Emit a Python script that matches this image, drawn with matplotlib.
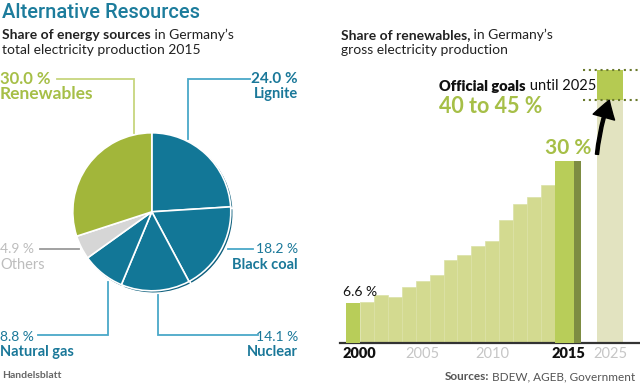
import matplotlib
matplotlib.use("Agg")
import matplotlib.pyplot as plt
from matplotlib.patches import FancyArrowPatch

plt.rcParams['font.family'] = ['Lato', 'DejaVu Sans']

# ---------------- data ----------------
pie_labels = ["Lignite", "Black coal", "Nuclear", "Natural gas", "Others", "Renewables"]
pie_values = [24.0, 18.2, 14.1, 8.8, 4.9, 30.0]

years = list(range(2000, 2016))
shares = [6.6, 6.7, 7.9, 7.5, 9.2, 10.2, 11.2, 13.7, 14.5, 15.9, 16.7, 20.2, 22.8, 24.0, 26.0, 30.0]
goal_year = 2025
goal_low, goal_high = 40, 45
tick_years = [2000, 2005, 2010, 2015, 2025]

# ---------------- colours ----------------
BLUE = "#127797"
BLUE_DARK = "#0d5f7d"
BLUE_TXT = "#1a7899"
BLUE_LINE = "#4aa8c8"
GREEN_PIE = "#a2b63a"
GREEN_TXT = "#a6bf47"
GREEN_LINE = "#c7d57e"
GRAY_PIE = "#d6d6d6"
GRAY_TXT = "#bdbdbd"
GRAY_LINE = "#9a9a9a"
BAR_PALE = "#d3da90"
BAR_BRIGHT = "#b8cd59"
BAR_DARK = "#7d8c42"
GOAL_BEIGE = "#e2e3c0"
GOAL_GREEN = "#b5ca52"
DOT = "#6b7a2e"

W, H = 640, 384
fig = plt.figure(figsize=(W / 100, H / 100), dpi=100)

def fax(x0, y0, w, h):
    """axes in top-down pixel coordinates"""
    return fig.add_axes([x0 / W, (H - y0 - h) / H, w / W, h / H])

# ---------------- pie ----------------
cx, cy, R = 153.3, 213.3, 80
pax = fax(cx - 90, cy - 90, 180, 180)
dark_cols = [BLUE_DARK] * 4 + [GRAY_PIE, GREEN_PIE]
main_cols = [BLUE] * 4 + [GRAY_PIE, GREEN_PIE]
pax.pie(pie_values, colors=dark_cols, startangle=90, counterclock=False,
        radius=R, center=(0, 0), frame=True,
        wedgeprops=dict(edgecolor="white", linewidth=1.2))
pax.pie(pie_values, colors=main_cols, startangle=90, counterclock=False,
        radius=R - 1, center=(-1.5, 1.5), frame=True,
        wedgeprops=dict(edgecolor="white", linewidth=1.2))
pax.set_xlim(-90, 90)
pax.set_ylim(-90, 90)
pax.set_aspect("equal")
pax.axis("off")

# ---------------- bars ----------------
base_px, top_px = 342.7, 60
ppu = 6.067  # pixels per percent
unit = 13.93  # pixels per year-bar
bx0, bx1 = 340, 640
bax = fax(bx0, top_px, bx1 - bx0, base_px - top_px)
bax.set_ylim(0, (base_px - top_px) / ppu)
bax.set_xlim((bx0 - 346) / unit, (bx1 - 346) / unit)

n_hist = len(years) - 1
pos = [y - years[0] for y in years]
pale_x = [p + 0.5 for p in pos[1:n_hist]]
bax.bar(pale_x, shares[1:n_hist], width=1.0, color=BAR_PALE,
        edgecolor="#dbe1a6", linewidth=0.5, zorder=2)
bax.bar(pos[0] + 0.5, shares[0], width=1.0, color=BAR_BRIGHT, linewidth=0, zorder=3)
# 2015 bar (wider, with a shadow strip)
w15 = 1.87
bax.bar(pos[-1], shares[-1], width=w15 - 0.5, align="edge", color=BAR_BRIGHT, linewidth=0, zorder=3)
bax.bar(pos[-1] + w15 - 0.5, shares[-1], width=0.5, align="edge", color=BAR_DARK, linewidth=0, zorder=3)
# 2025 goal bar
gx = pos[-1] + w15 + 1.15
bax.bar(gx, goal_low, width=w15, align="edge", color=GOAL_BEIGE, linewidth=0, zorder=2)
bax.bar(gx, goal_high - goal_low, bottom=goal_low, width=w15, align="edge",
        color=GOAL_GREEN, linewidth=0, zorder=2)
for yv in (goal_low, goal_high):
    bax.plot([gx - 1.0, bax.get_xlim()[1]], [yv, yv], color=DOT, lw=1.5,
             ls=(0, (1, 1.8)), zorder=4, solid_capstyle="butt")

for s in ("top", "right", "left"):
    bax.spines[s].set_visible(False)
bax.spines["bottom"].set_color("#333333")
bax.spines["bottom"].set_linewidth(1.6)
bax.set_yticks([])
bax.set_xticks([])
bax.patch.set_alpha(0)

# tick labels
tick_pos = {2000: -0.25, 2005: 5.5, 2010: 10.5, 2015: pos[-1] + w15 / 2, 2025: gx + w15 / 2}
for ty in tick_years:
    bold = ty in (2000, 2015)
    bax.text(tick_pos[ty], -1.8, str(ty), ha="left" if ty == 2000 else "center", va="center",
             fontsize=10.5, fontweight="heavy" if bold else "normal",
             color="#111111" if bold else "#c6c6c6", clip_on=False)

bax.text(-0.25, shares[0] + 1.8, f"{shares[0]:.1f} %", ha="left", va="center",
         fontsize=10, color="#111111")
bax.text(pos[-1] + w15 / 2, shares[-1] + 2.1, f"{shares[-1]:.0f} %", ha="center", va="center",
         fontsize=15, fontweight="bold", color=GREEN_TXT)

arr = FancyArrowPatch((gx - 0.02, shares[-1] + 0.6), (gx + 0.95, goal_low + 0.4),
                      connectionstyle="arc3,rad=-0.07",
                      arrowstyle="simple,head_width=10,head_length=8,tail_width=1.4",
                      color="black", zorder=6, mutation_scale=1.6)
bax.add_patch(arr)

# ---------------- overlay texts ----------------
ov = fig.add_axes([0, 0, 1, 1], zorder=10)
ov.set_xlim(0, W)
ov.set_ylim(H, 0)
ov.axis("off")
ov.patch.set_alpha(0)

ov.text(2, 12.5, "Alternative Resources", fontsize=14.5, color="#1c7c9c", va="center", ha="left",
        family=["Roboto", "Lato", "DejaVu Sans"], fontweight="medium")

def mixed(x, y, parts, fs, color="#222222"):
    t = None
    for txt, wt in parts:
        if t is None:
            t = ov.text(x, y, txt, fontsize=fs, fontweight=wt, color=color, va="center", ha="left")
        else:
            t = ov.annotate(txt, xycoords=t, xy=(1, 0), va="bottom", ha="left",
                            fontsize=fs, fontweight=wt, color=color)
    return t

mixed(2, 35, [("Share of energy sources", "bold"), (" in Germany\u2019s", "normal")], 10)
ov.text(2, 50, "total electricity production 2015", fontsize=10, color="#222222", va="center")
mixed(341, 35, [("Share of renewables,", "bold"), (" in Germany\u2019s", "normal")], 10)
ov.text(341, 50, "gross electricity production", fontsize=10, color="#222222", va="center")

mixed(439, 86.5, [("Official goals", "heavy"), (" until 2025", "normal")], 10.5, color="#111111")
ov.text(439, 106.5, f"{goal_low} to {goal_high} %", fontsize=15.5, fontweight="bold",
        color=GREEN_TXT, va="center")

# pie labels: (x, y, ha, colour, num weight, num size, name weight, name size)
lab = {
    "Renewables": (0, 79, "left", GREEN_TXT, "bold", 12, "bold", 12.5),
    "Lignite": (298, 79, "right", BLUE_TXT, "bold", 11, "bold", 10.5),
    "Black coal": (298, 249.3, "right", BLUE_TXT, "normal", 10, "bold", 10.5),
    "Nuclear": (298, 336.7, "right", BLUE_TXT, "normal", 10, "bold", 10.5),
    "Natural gas": (0, 336.7, "left", BLUE_TXT, "normal", 10, "bold", 10.5),
    "Others": (0, 249.3, "left", GRAY_TXT, "normal", 10, "normal", 10.5),
}
for name, val in zip(pie_labels, pie_values):
    x, y, ha, col, wnum, snum, wname, sname = lab[name]
    ov.text(x, y, f"{val:.1f} %", ha=ha, va="center", fontsize=snum, fontweight=wnum, color=col)
    ov.text(x, y + 15.3, name, ha=ha, va="center", fontsize=sname, fontweight=wname, color=col)

# leader lines
lines = [
    ([57, 134, 134], [79, 79, 133], GREEN_LINE),
    ([188.3, 188.3, 250], [139, 79, 79], BLUE_LINE),
    ([228, 253], [249.3, 249.3], BLUE_LINE),
    ([40, 79], [249.3, 249.3], GRAY_LINE),
    ([108.3, 108.3, 38.3], [281.7, 335.3, 335.3], BLUE_LINE),
    ([158.3, 158.3, 257.7], [295, 335.3, 335.3], BLUE_LINE),
]
for xs, ys, c in lines:
    ov.plot(xs, ys, color=c, lw=1.3, solid_joinstyle="miter")

ov.text(2, 376, "Handelsblatt", fontsize=7.5, fontweight="bold", color="#666666", va="center")
t = ov.text(635, 376.5, " BDEW, AGEB, Government", fontsize=8.5, color="#555555", va="center", ha="right")
ov.annotate("Sources:", xycoords=t, xy=(0, 0), va="bottom", ha="right",
            fontsize=8.5, fontweight="bold", color="#555555")

fig.savefig("out.png", dpi=100)
